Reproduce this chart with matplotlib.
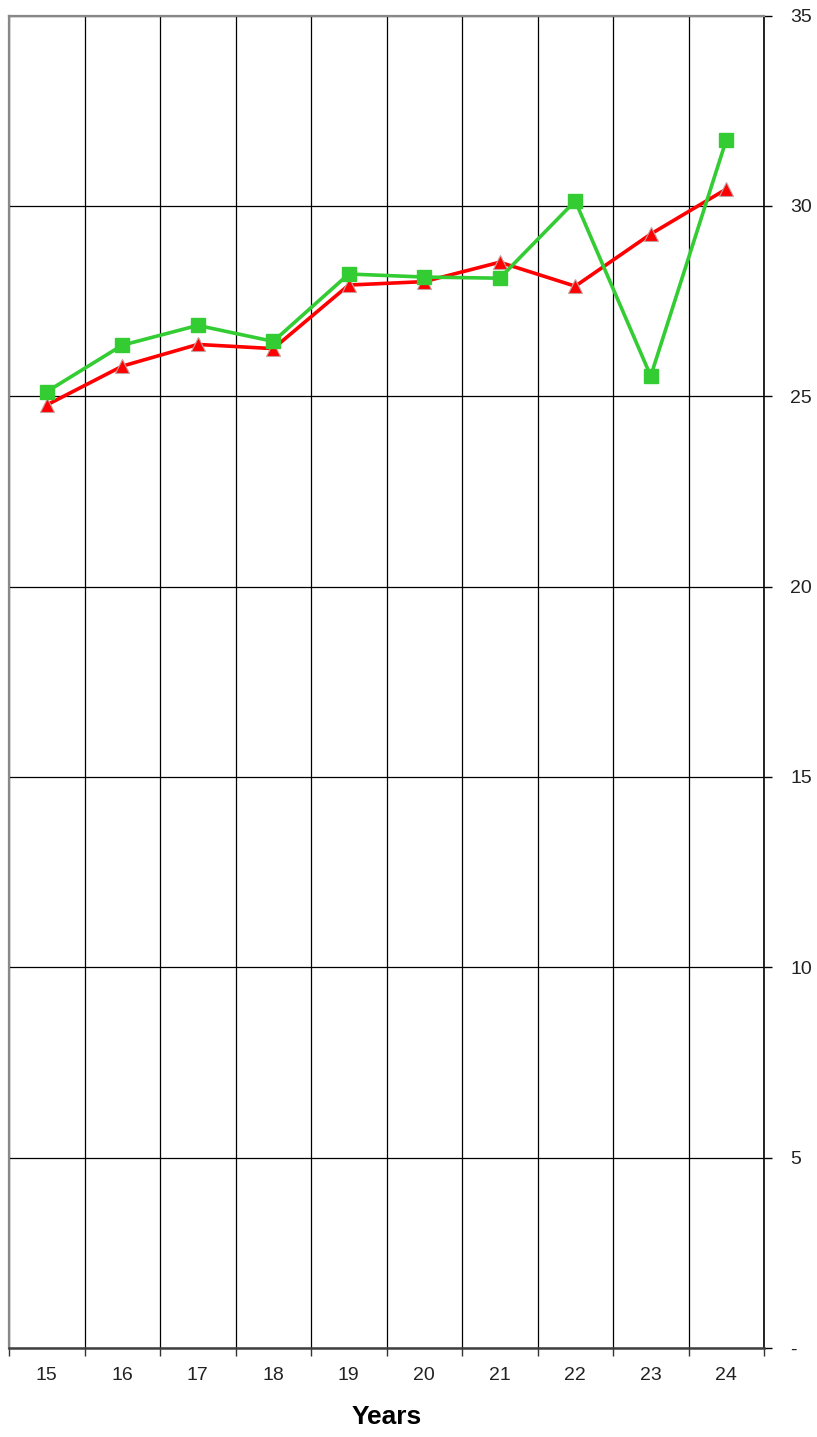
import matplotlib
matplotlib.use("Agg")
import matplotlib.pyplot as plt
import numpy as np

plt.rcParams['font.family'] = ['Liberation Sans', 'DejaVu Sans']

years = ["15", "16", "17", "18", "19", "20", "21", "22", "23", "24"]
series_green = [25.12, 26.34, 26.86, 26.44, 28.21, 28.13, 28.10, 30.13, 25.53, 31.73]
series_red = [24.77, 25.79, 26.36, 26.25, 27.92, 28.01, 28.52, 27.89, 29.26, 30.44]
y_ticks = [0, 5, 10, 15, 20, 25, 30, 35]
y_tick_labels = ["-", "5", "10", "15", "20", "25", "30", "35"]

W, H = 817, 1437
fig = plt.figure(figsize=(W / 100, H / 100), dpi=100)
left, right, top, bottom = 9, 764, 15.5, 1348
ax = fig.add_axes([left / W, 1 - bottom / H, (right - left) / W, (bottom - top) / H])

x = np.arange(len(years))
ax.plot(x, series_red, color='#FF0000', lw=2.6, marker='^', markersize=10,
        markerfacecolor='#FF0000', markeredgecolor='#c8a0a0', markeredgewidth=0.8, zorder=3)
ax.plot(x, series_green, color='#33CC33', lw=2.6, marker='s', markersize=9.5,
        markerfacecolor='#33CC33', markeredgecolor='#33CC33', zorder=4)

ax.set_xlim(-0.5, len(years) - 0.5)
ax.set_ylim(0, 35)

# y axis on right
ax.yaxis.tick_right()
ax.set_yticks(y_ticks)
ax.set_yticklabels(y_tick_labels)
ax.tick_params(axis='y', which='major', direction='out', length=5.8, width=1.0,
               color='black', pad=13, labelsize=14, labelcolor='#222222')

# x axis: labels at centers, ticks at category boundaries
ax.set_xticks(x)
ax.set_xticklabels(years)
ax.set_xticks(np.arange(-0.5, len(years)), minor=True)
ax.tick_params(axis='x', which='major', length=0, pad=14, labelsize=14, labelcolor='#222222')
ax.tick_params(axis='x', which='minor', direction='out', length=5.8, width=1.0, color='#333333')

ax.grid(True, axis='x', which='minor', color='black', lw=0.9)
ax.grid(True, axis='y', which='major', color='black', lw=0.9)
ax.grid(False, axis='x', which='major')
ax.set_axisbelow(True)

ax.spines['left'].set_color('#888888')
ax.spines['left'].set_linewidth(1.6)
ax.spines['top'].set_color('#888888')
ax.spines['top'].set_linewidth(1.6)
ax.spines['right'].set_color('black')
ax.spines['right'].set_linewidth(1.2)
ax.spines['bottom'].set_color('#404040')
ax.spines['bottom'].set_linewidth(1.8)

ax.set_xlabel("Years", fontsize=19, fontweight='bold', color='black')
ax.xaxis.set_label_coords(0.5, (bottom - 1405) / (bottom - top))
ax.xaxis.label.set_va('top')

fig.savefig("out.png", dpi=100, facecolor='white')
